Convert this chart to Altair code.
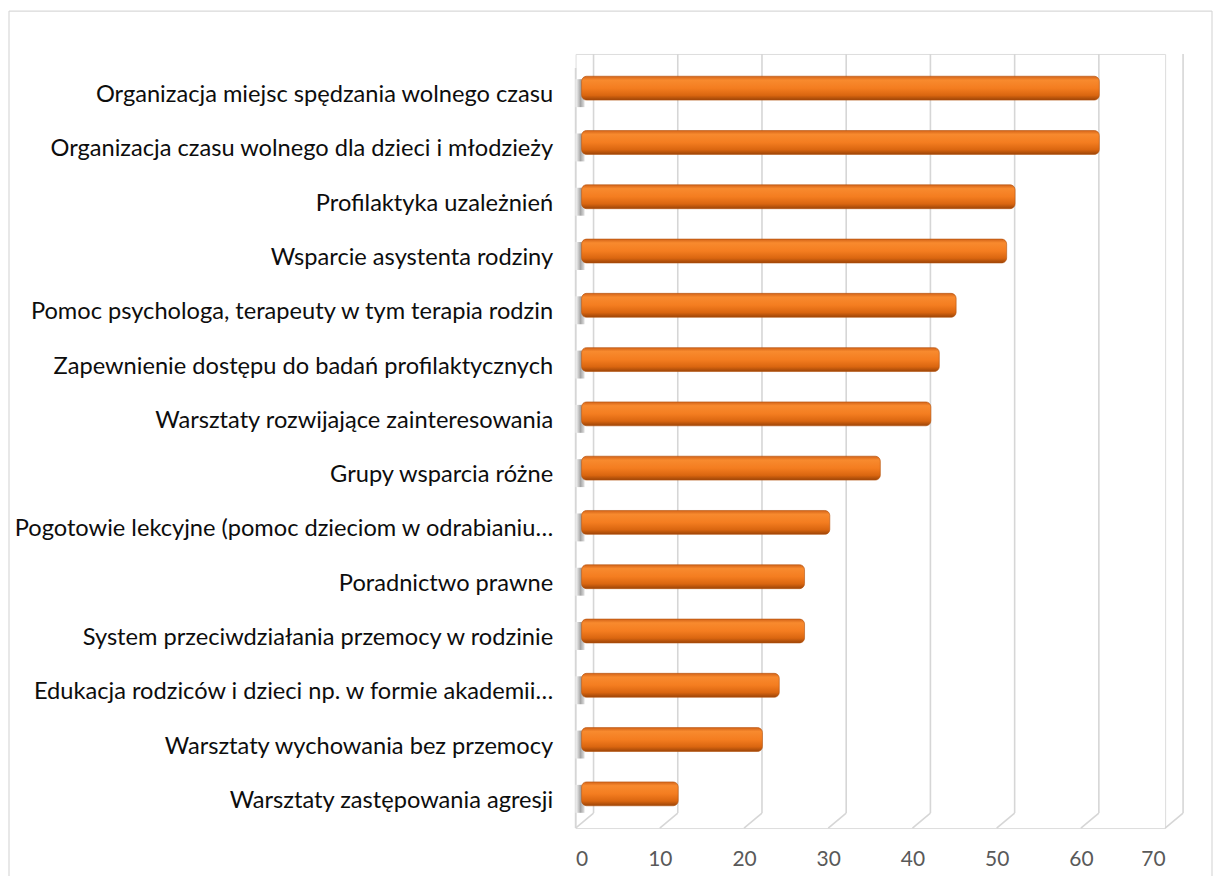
import altair as alt
import pandas as pd

categories = [
    "Organizacja miejsc spędzania wolnego czasu",
    "Organizacja czasu wolnego dla dzieci i młodzieży",
    "Profilaktyka uzależnień",
    "Wsparcie asystenta rodziny",
    "Pomoc psychologa, terapeuty w tym terapia rodzin",
    "Zapewnienie dostępu do badań profilaktycznych",
    "Warsztaty rozwijające zainteresowania",
    "Grupy wsparcia różne",
    "Pogotowie lekcyjne (pomoc dzieciom w odrabianiu…",
    "Poradnictwo prawne",
    "System przeciwdziałania przemocy w rodzinie",
    "Edukacja rodziców i dzieci np. w formie akademii…",
    "Warsztaty wychowania bez przemocy",
    "Warsztaty zastępowania agresji",
]
values = [61, 61, 51, 50, 44, 42, 41, 35, 29, 26, 26, 23, 21, 11]
ticks = [0, 10, 20, 30, 40, 50, 60, 70]

W, H = 591, 776
DX, DY = 18, 15
FONT = "Lato"
GRID = "#D6D6D6"

df = pd.DataFrame({"cat": categories, "value": values})
tick_df = pd.DataFrame({"t": ticks})

xscale = alt.Scale(domain=[0, 70], nice=False, zero=True)

grad = alt.LinearGradient(
    gradient="linear", x1=0, y1=0, x2=0, y2=1,
    stops=[
        alt.GradientStop(color="#D36318", offset=0),
        alt.GradientStop(color="#F88A2E", offset=0.16),
        alt.GradientStop(color="#F47D20", offset=0.5),
        alt.GradientStop(color="#DA6610", offset=0.8),
        alt.GradientStop(color="#9C4407", offset=1),
    ],
)
shade = alt.LinearGradient(
    gradient="linear", x1=0, y1=0, x2=1, y2=0,
    stops=[
        alt.GradientStop(color="#FFFFFF", offset=0),
        alt.GradientStop(color="#8E8E8E", offset=0.55),
        alt.GradientStop(color="#DADADA", offset=1),
    ],
)

# back-wall vertical gridlines
grid_v = alt.Chart(tick_df).mark_rule(color=GRID, strokeWidth=1.6, xOffset=DX).encode(
    x=alt.X("t:Q", scale=xscale,
            axis=alt.Axis(values=ticks, grid=False, domain=False, ticks=False,
                          labelFont=FONT, labelFontSize=21, labelColor="#595959",
                          labelPadding=21, title=None)),
    y=alt.value(0), y2=alt.value(H - DY),
)
# floor diagonals
grid_d = alt.Chart(tick_df).mark_rule(color=GRID, strokeWidth=1.6, x2Offset=DX).encode(
    x=alt.X("t:Q", scale=xscale), x2=alt.X2("t"),
    y=alt.value(H), y2=alt.value(H - DY),
)
# left (front) wall edge
wall = alt.Chart(tick_df).transform_filter("datum.t == 0").mark_rule(
    color=GRID, strokeWidth=1.6).encode(
    x=alt.X("t:Q", scale=xscale), y=alt.value(DY - 1), y2=alt.value(H),
)

ysort = categories
yaxis = alt.Axis(domain=False, ticks=False, labelFont=FONT, labelFontSize=23.7,
                 labelColor="#0D0D0D", labelPadding=23, labelLimit=700,
                 labelOffset=7, title=None)
yscale = alt.Scale(paddingInner=0.56, paddingOuter=0.41)

# blurred shadows of the bars on the left wall
shadow = alt.Chart(df).mark_bar(color=shade, opacity=0.8, xOffset=9, x2Offset=0,
                                yOffset=5, height=28).encode(
    y=alt.Y("cat:N", sort=ysort, scale=yscale, axis=yaxis),
    x=alt.datum(0, scale=xscale), x2=alt.datum(0),
)
bars = alt.Chart(df).mark_bar(color=grad, xOffset=10, x2Offset=6, cornerRadiusEnd=5,
                              stroke="#B4520E", strokeWidth=0.6).encode(
    y=alt.Y("cat:N", sort=ysort, scale=yscale, axis=yaxis),
    x=alt.X("value:Q", scale=xscale), x2=alt.datum(0),
)

# outer chart frame (left, top, right)
frame_l = alt.Chart(tick_df).transform_filter("datum.t == 0").mark_rule(
    color="#D9D9D9", strokeWidth=1.2).encode(
    x=alt.value(-568), y=alt.value(-43), y2=alt.value(H + 48))
frame_r = alt.Chart(tick_df).transform_filter("datum.t == 0").mark_rule(
    color="#D9D9D9", strokeWidth=1.2).encode(
    x=alt.value(638), y=alt.value(-43), y2=alt.value(H + 48))
frame_t = alt.Chart(tick_df).transform_filter("datum.t == 0").mark_rule(
    color="#D9D9D9", strokeWidth=1.2).encode(
    x=alt.value(-568), x2=alt.value(638), y=alt.value(-43))

chart = alt.layer(frame_l, frame_r, frame_t, grid_v, grid_d, wall, shadow, bars).properties(
    width=W, height=H,
    padding={"left": 0, "top": 1, "right": 2, "bottom": 0},
).configure_view(stroke=None).configure(background="white")

chart.save("out.html", embed_options={"renderer": "svg", "actions": False})
